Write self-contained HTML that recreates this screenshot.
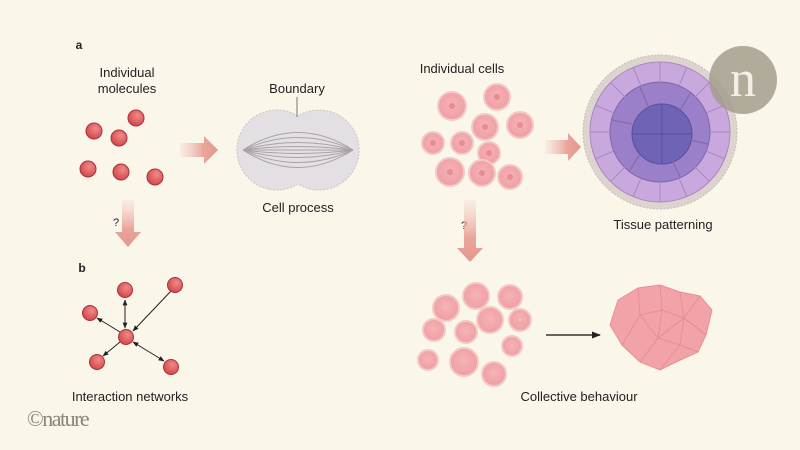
<!DOCTYPE html>
<html><head><meta charset="utf-8"><style>
html,body{margin:0;padding:0;background:#faf6ea;}
svg{display:block;font-family:"Liberation Sans",sans-serif;}
</style></head><body>
<svg width="800" height="450" viewBox="0 0 800 450" xmlns="http://www.w3.org/2000/svg">
<defs>
<radialGradient id="mol" cx="0.6" cy="0.35" r="0.7"><stop offset="0" stop-color="#f08a86"/><stop offset="1" stop-color="#d2434a"/></radialGradient>
<linearGradient id="ah" x1="0" x2="1"><stop offset="0" stop-color="#f4c9bf" stop-opacity="0.2"/><stop offset="0.6" stop-color="#eaa69c"/><stop offset="1" stop-color="#e4968c"/></linearGradient>
<linearGradient id="av" x1="0" y1="0" x2="0" y2="1"><stop offset="0" stop-color="#f4c9bf" stop-opacity="0.2"/><stop offset="0.6" stop-color="#eaa69c"/><stop offset="1" stop-color="#e4968c"/></linearGradient>
<radialGradient id="cell" cx="0.5" cy="0.45" r="0.6"><stop offset="0" stop-color="#f6b3b6"/><stop offset="1" stop-color="#ee9ca2"/></radialGradient>
<marker id="ar" viewBox="0 0 10 10" refX="9" refY="5" markerWidth="6" markerHeight="6" orient="auto-start-reverse"><path d="M0,1 L10,5 L0,9 z" fill="#222"/></marker>
</defs>
<rect width="800" height="450" fill="#faf6ea"/>
<g font-size="13" fill="#222" text-anchor="middle">
<text x="79" y="49" font-weight="bold" font-size="12">a</text>
<text x="127" y="77">Individual</text>
<text x="127" y="93">molecules</text>
<text x="297" y="93">Boundary</text>
<text x="298" y="212">Cell process</text>
<text x="82" y="272" font-weight="bold" font-size="12">b</text>
<text x="130" y="401">Interaction networks</text>
<text x="462" y="73">Individual cells</text>
<text x="663" y="229">Tissue patterning</text>
<text x="579" y="401">Collective behaviour</text>
<text x="116" y="226" font-size="11">?</text>
<text x="464" y="229" font-size="11">?</text>
</g>
<text x="27" y="426" font-family="Liberation Serif,serif" font-size="22" fill="#8a8577" letter-spacing="-1.5">©nature</text>
<!-- molecules -->
<g fill="url(#mol)" stroke="#a8323a" stroke-width="1">
<circle cx="94" cy="131" r="8"/><circle cx="136" cy="118" r="8"/><circle cx="119" cy="138" r="8"/>
<circle cx="88" cy="169" r="8"/><circle cx="121" cy="172" r="8"/><circle cx="155" cy="177" r="8"/>
</g>
<!-- arrows -->
<path d="M180,143 H204 V136 L218,150 L204,164 V157 H180 z" fill="url(#ah)"/>
<path d="M545,140 H568 V133 L581,147 L568,161 V154 H545 z" fill="url(#ah)"/>
<path d="M122,200 V232 H115 L128,247 L141,232 H134 V200 z" fill="url(#av)"/>
<path d="M464,200 V248 H457 L470,262 L483,248 H476 V200 z" fill="url(#av)"/>
<!-- cell process -->
<g>
<path d="M298,116 A40,40 0 1 0 298,184 A40,40 0 1 0 298,116 z" fill="#e3dfe2" stroke="#c9c4c6" stroke-dasharray="2,1.5"/>
<g stroke="#a9a3a7" stroke-width="1" fill="none">
<path d="M243,150 Q298,115 353,150"/><path d="M243,150 Q298,125 353,150"/><path d="M243,150 Q298,135 353,150"/><path d="M243,150 Q298,143 353,150"/>
<path d="M243,150 H353"/><path d="M243,150 Q298,157 353,150"/><path d="M243,150 Q298,165 353,150"/><path d="M243,150 Q298,175 353,150"/><path d="M243,150 Q298,185 353,150"/>
</g>
<line x1="297" y1="97" x2="297" y2="117" stroke="#777"/>
</g>
<!-- network -->
<g stroke="#222" stroke-width="1" fill="none" marker-end="url(#ar)">
<line x1="125" y1="328" x2="125" y2="300" marker-start="url(#ar)"/>
<line x1="171" y1="291" x2="133" y2="331"/>
<line x1="120" y1="332" x2="97" y2="318"/>
<line x1="120" y1="342" x2="103" y2="356"/>
<line x1="133" y1="342" x2="164" y2="361" marker-start="url(#ar)"/>
</g>
<g fill="url(#mol)" stroke="#a8323a">
<circle cx="126" cy="337" r="7.5"/><circle cx="125" cy="290" r="7.5"/><circle cx="175" cy="285" r="7.5"/>
<circle cx="90" cy="313" r="7.5"/><circle cx="97" cy="362" r="7.5"/><circle cx="171" cy="367" r="7.5"/>
</g>
<!-- individual cells -->
<g fill="url(#cell)" stroke="#f3c9c6" stroke-width="2">
<circle cx="452" cy="106" r="14"/><circle cx="497" cy="97" r="13"/><circle cx="485" cy="127" r="13"/>
<circle cx="520" cy="125" r="13"/><circle cx="433" cy="143" r="11"/><circle cx="462" cy="143" r="11"/>
<circle cx="489" cy="153" r="11"/><circle cx="450" cy="172" r="14"/><circle cx="482" cy="173" r="13"/><circle cx="510" cy="177" r="12"/>
</g>
<g fill="#e88b93"><circle cx="452" cy="106" r="3"/><circle cx="497" cy="97" r="3"/><circle cx="485" cy="127" r="3"/><circle cx="520" cy="125" r="3"/><circle cx="433" cy="143" r="3"/><circle cx="462" cy="143" r="3"/><circle cx="489" cy="153" r="3"/><circle cx="450" cy="172" r="3"/><circle cx="482" cy="173" r="3"/><circle cx="510" cy="177" r="3"/></g>
<!-- tissue -->
<g transform="translate(660,132)">
<circle r="77" fill="#ddd3cf" stroke="#c6bcb8" stroke-dasharray="2,1.5"/>
<circle r="70" fill="#c9a8de" stroke="#a888c0"/>
<circle r="50" fill="#9a80c8" stroke="#7f66ad"/>
<circle cx="2" cy="2" r="30" fill="#6f63b6" stroke="#5a4f9b"/>
<g stroke="#a888c0" stroke-width="1">
<line x1="0" y1="-70" x2="0" y2="-50"/><line x1="0" y1="50" x2="0" y2="70"/><line x1="-70" y1="0" x2="-50" y2="0"/><line x1="50" y1="0" x2="70" y2="0"/>
<line x1="-49" y1="-49" x2="-35" y2="-35"/><line x1="49" y1="-49" x2="35" y2="-35"/><line x1="-49" y1="49" x2="-35" y2="35"/><line x1="49" y1="49" x2="35" y2="35"/>
<line x1="-27" y1="-65" x2="-19" y2="-46"/><line x1="27" y1="-65" x2="19" y2="-46"/><line x1="-27" y1="65" x2="-19" y2="46"/><line x1="27" y1="65" x2="19" y2="46"/>
<line x1="-65" y1="-27" x2="-46" y2="-19"/><line x1="65" y1="-27" x2="46" y2="-19"/><line x1="-65" y1="27" x2="-46" y2="19"/><line x1="65" y1="27" x2="46" y2="19"/>
</g>
<g stroke="#7f66ad" stroke-width="1"><line x1="-48" y1="-12" x2="-28" y2="-8"/><line x1="48" y1="12" x2="30" y2="8"/><line x1="-20" y1="-45" x2="-12" y2="-26"/><line x1="20" y1="45" x2="12" y2="28"/><line x1="30" y1="-38" x2="20" y2="-22"/><line x1="-30" y1="38" x2="-20" y2="22"/></g>
<g stroke="#5a4f9b" stroke-width="1"><line x1="2" y1="-28" x2="2" y2="32"/><line x1="-28" y1="2" x2="32" y2="2"/></g>
</g>
<!-- n logo -->
<circle cx="743" cy="80" r="34" fill="#a39e8e" opacity="0.85"/>
<text x="743" y="96" text-anchor="middle" font-family="Liberation Serif,serif" font-size="52" fill="#f3efe4">n</text>
<!-- collective -->
<g fill="url(#cell)" stroke="#f3c9c6" stroke-width="2">
<circle cx="446" cy="308" r="13"/><circle cx="476" cy="296" r="13"/><circle cx="510" cy="297" r="12"/>
<circle cx="490" cy="320" r="13"/><circle cx="520" cy="320" r="11"/><circle cx="434" cy="330" r="11"/>
<circle cx="466" cy="332" r="11"/><circle cx="512" cy="346" r="10"/><circle cx="428" cy="360" r="10"/>
<circle cx="464" cy="362" r="14"/><circle cx="494" cy="374" r="12"/>
</g>
<line x1="546" y1="335" x2="600" y2="335" stroke="#333" stroke-width="1.5" marker-end="url(#ar)"/>
<path d="M618,300 L638,288 L660,285 L680,292 L700,296 L712,310 L706,335 L698,352 L676,362 L660,370 L640,362 L622,345 L610,325 z" fill="#f2a3a8" stroke="#e98f96"/>
<g fill="none" stroke="#e38a92" stroke-width="0.8">
<path d="M638,288 L640,315 L622,345"/><path d="M660,285 L662,310 L640,315"/><path d="M680,292 L684,318 L662,310"/><path d="M700,296 L684,318 L706,335"/><path d="M640,315 L658,338 L640,362"/><path d="M662,310 L658,338 L684,318 L680,345 L698,352"/><path d="M658,338 L680,345 L660,370"/>
</g>
</svg>
</body></html>
